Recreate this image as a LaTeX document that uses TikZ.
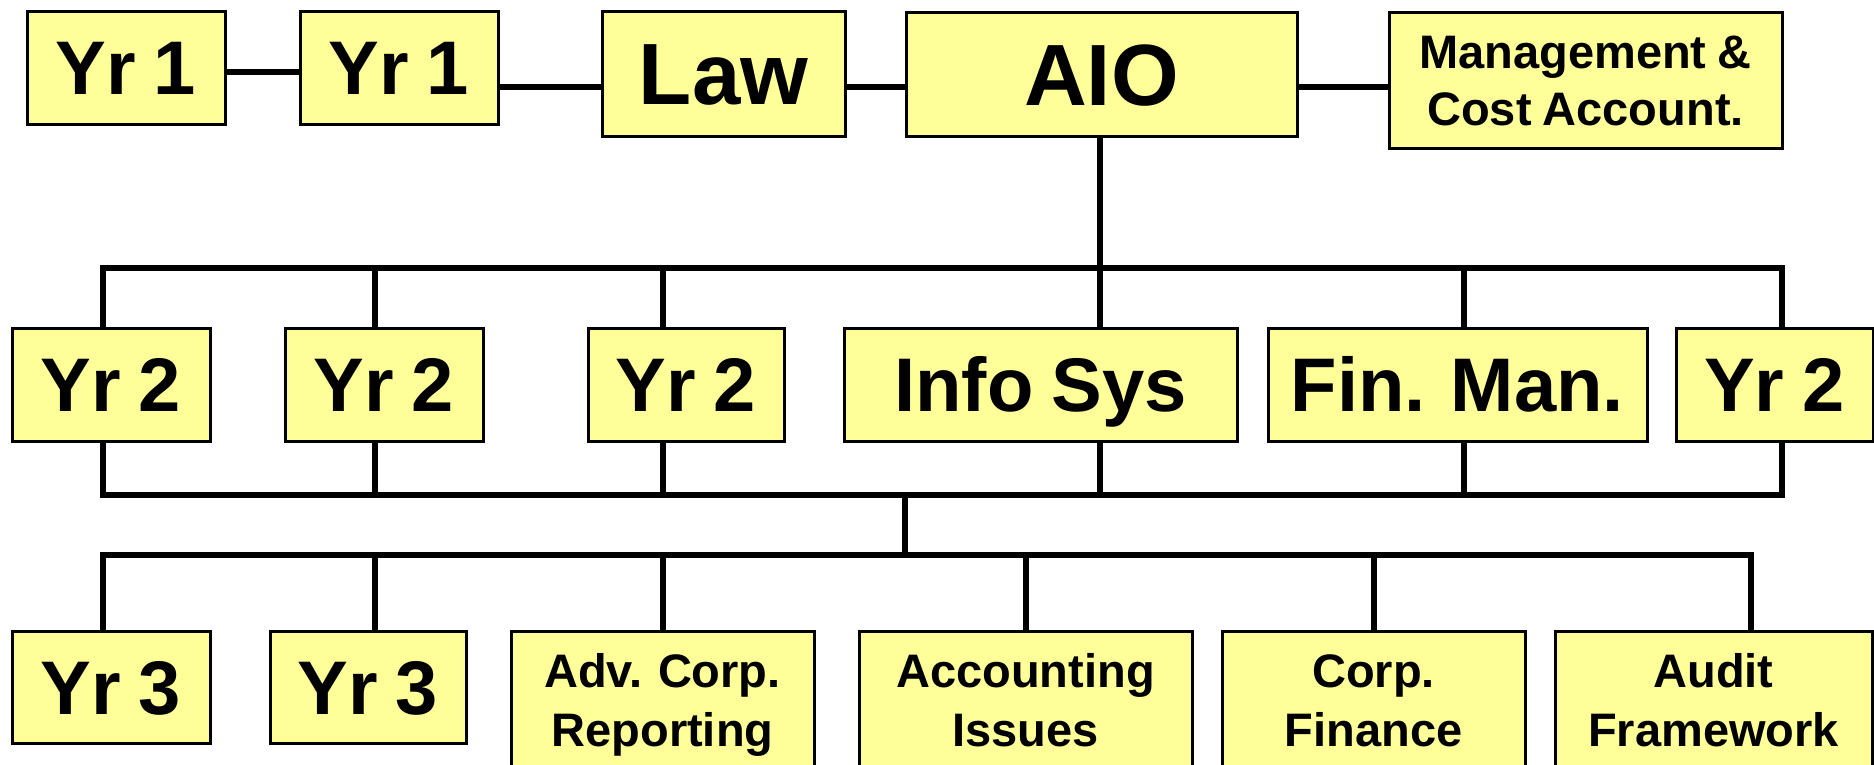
\documentclass[tikz,border=0pt]{standalone}
\usepackage{fontspec}
\setmainfont{Liberation Sans}[WordSpace=0.85]
\usetikzlibrary{calc}
\definecolor{boxyellow}{RGB}{255,255,153}
\begin{document}
\begin{tikzpicture}[x=1pt,y=-1pt,
  box/.style={draw=black, line width=3pt, fill=boxyellow, inner sep=0pt, text=black},
  huge/.style={font=\fontsize{87}{100}\selectfont\bfseries, text height=62pt, text depth=0pt},
  large/.style={font=\fontsize{76}{90}\selectfont\bfseries, text height=54.5pt, text depth=0pt},
  small/.style={font=\fontsize{47}{59}\selectfont\bfseries, inner sep=0pt, anchor=base},
  conn/.style={draw=black, line width=5.5pt, line join=miter}]
\useasboundingbox (0,0) rectangle (1874,764);

% coordinates for connector rows / columns
\coordinate (row1) at (0,87);
\coordinate (bus1) at (0,268);
\coordinate (bus2) at (0,495);
\coordinate (bus3) at (0,555);
\coordinate (xa) at (103,0);
\coordinate (xb) at (375,0);
\coordinate (xc) at (663,0);
\coordinate (xd) at (1100,0);
\coordinate (xe) at (1464,0);
\coordinate (xf) at (1782,0);
\coordinate (xg) at (905,0);
\coordinate (xh) at (1026,0);
\coordinate (xi) at (1374,0);
\coordinate (xj) at (1751,0);

% top row
\node[box, large, minimum width=198, minimum height=113] (yr1a) at (126,67.5) {Yr 1};
\node[box, large, minimum width=198, minimum height=113] (yr1b) at (399,67.5) {Yr 1};
\node[box, huge, minimum width=243, minimum height=125] (law) at (723.5,73.5) {Law};
\node[box, huge, minimum width=391, minimum height=124] (aio) at (1101.5,74) {AIO};
\node[box, minimum width=393, minimum height=136] (mgmt) at (1585.5,80) {};
\node[small] (mgmt1) at ($(mgmt.center)+(0,-12)$) {Management \&};
\node[small] (mgmt2) at ($(mgmt.center)+(0,45)$) {Cost Account.};

% second row
\node[box, large, minimum width=198, minimum height=113] (yr2a) at (111,384.5) {Yr 2};
\node[box, large, minimum width=198, minimum height=113] (yr2b) at (384,384.5) {Yr 2};
\node[box, large, minimum width=196, minimum height=113] (yr2c) at (686,384.5) {Yr 2};
\node[box, large, minimum width=393, minimum height=113] (info) at (1040.5,384.5) {Info Sys};
\node[box, large, minimum width=379, minimum height=113] (fin) at (1457.5,384.5) {Fin. Man.};
\node[box, large, minimum width=197, minimum height=113] (yr2f) at (1774.5,384.5) {Yr 2};

% third row
\node[box, large, minimum width=198, minimum height=112] (yr3a) at (111,687) {Yr 3};
\node[box, large, minimum width=196, minimum height=112] (yr3b) at (368,687) {Yr 3};
\node[box, minimum width=303, minimum height=137] (adv) at (662.5,699.5) {};
\node[small] (adv1) at ($(adv.center)+(0,-12.5)$) {Adv. Corp.};
\node[small] (adv2) at ($(adv.center)+(0,46.5)$) {Reporting};
\node[box, minimum width=333, minimum height=137] (acc) at (1025.5,699.5) {};
\node[small] (acc1) at ($(acc.center)+(0,-12.5)$) {Accounting};
\node[small] (acc2) at ($(acc.center)+(0,46.5)$) {Issues};
\node[box, minimum width=303, minimum height=137] (corp) at (1373.5,699.5) {};
\node[small] (corp1) at ($(corp.center)+(0,-12.5)$) {Corp.};
\node[small] (corp2) at ($(corp.center)+(0,46.5)$) {Finance};
\node[box, minimum width=317, minimum height=137] (audit) at (1713.5,699.5) {};
\node[small] (audit1) at ($(audit.center)+(0,-12.5)$) {Audit};
\node[small] (audit2) at ($(audit.center)+(0,46.5)$) {Framework};

% top row connectors
\draw[conn] ([yshift=-4.5pt]yr1a.east) -- ([yshift=-4.5pt]yr1b.west);
\draw[conn] (yr1b.east |- row1) -- (law.west |- row1);
\draw[conn] (law.east |- row1) -- (aio.west |- row1);
\draw[conn] (aio.east |- row1) -- (mgmt.west |- row1);

% AIO down to bus 1
\draw[conn] (aio.south -| xd) -- (xd |- bus1);

% bus 1 to second row
\draw[conn] (yr2a.north -| xa) -- (xa |- bus1) -- (xf |- bus1) -- (yr2f.north -| xf);
\draw[conn] (xb |- bus1) -- (yr2b.north -| xb);
\draw[conn] (xc |- bus1) -- (yr2c.north -| xc);
\draw[conn] (xd |- bus1) -- (info.north -| xd);
\draw[conn] (xe |- bus1) -- (fin.north -| xe);

% second row to bus 2
\draw[conn] (yr2a.south -| xa) -- (xa |- bus2) -- (xf |- bus2) -- (yr2f.south -| xf);
\draw[conn] (yr2b.south -| xb) -- (xb |- bus2);
\draw[conn] (yr2c.south -| xc) -- (xc |- bus2);
\draw[conn] (info.south -| xd) -- (xd |- bus2);
\draw[conn] (fin.south -| xe) -- (xe |- bus2);

% bus 2 to bus 3
\draw[conn] (xg |- bus2) -- (xg |- bus3);

% bus 3 to third row
\draw[conn] (yr3a.north -| xa) -- (xa |- bus3) -- (xj |- bus3) -- (audit.north -| xj);
\draw[conn] (xb |- bus3) -- (yr3b.north -| xb);
\draw[conn] (xc |- bus3) -- (adv.north -| xc);
\draw[conn] (xh |- bus3) -- (acc.north -| xh);
\draw[conn] (xi |- bus3) -- (corp.north -| xi);
\end{tikzpicture}
\end{document}
